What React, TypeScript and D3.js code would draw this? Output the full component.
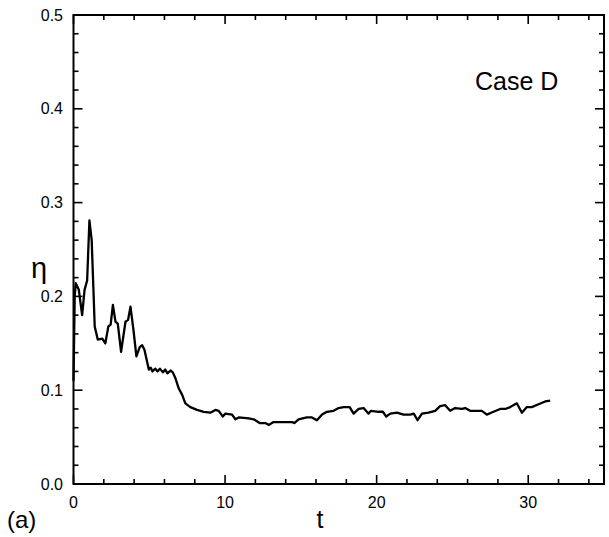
import React from "react";
import * as d3 from "d3";

const tValues = [
  0, 0.08, 0.15, 0.35, 0.57, 0.73, 0.9, 1.05, 1.2, 1.4,
  1.6, 1.9, 2.1, 2.3, 2.45, 2.6, 2.77, 2.92, 3.14, 3.43,
  3.6, 3.76, 3.95, 4.15, 4.37, 4.53, 4.68, 4.97, 5.1, 5.2,
  5.4, 5.55, 5.7, 5.9, 6.05, 6.2, 6.4, 6.55, 6.72, 6.94,
  7.17, 7.38, 7.71, 8.15, 8.59, 9.03, 9.36, 9.58, 9.85, 10.02,
  10.46, 10.68, 10.9, 11.56, 11.89, 12.28, 12.66, 12.88, 13.2, 13.86,
  14.42, 14.57, 14.85, 15.4, 15.73, 16.06, 16.4, 16.72, 17.16, 17.49,
  17.82, 18.22, 18.48, 18.81, 19.14, 19.47, 19.62, 20.13, 20.41, 20.63,
  20.9, 21.34, 21.77, 22.22, 22.45, 22.7, 22.99, 23.42, 23.86, 24.19,
  24.52, 24.85, 25.18, 25.62, 25.84, 26.17, 26.94, 27.27, 27.71, 28.15,
  28.48, 28.81, 29.25, 29.58, 29.91, 30.24, 30.68, 31.12, 31.45,
];

const etaValues = [
  0.11, 0.2, 0.214, 0.207, 0.18, 0.207, 0.217, 0.281, 0.26, 0.168,
  0.154, 0.155, 0.15, 0.168, 0.17, 0.191, 0.173, 0.171, 0.141, 0.173,
  0.175, 0.189, 0.165, 0.136, 0.146, 0.148, 0.143, 0.122, 0.124, 0.12,
  0.123, 0.12, 0.123, 0.119, 0.122, 0.118, 0.121, 0.119, 0.113, 0.102,
  0.095, 0.086, 0.082, 0.079, 0.077, 0.076, 0.079, 0.078, 0.072, 0.075,
  0.074, 0.069, 0.071, 0.07, 0.069, 0.065, 0.065, 0.063, 0.066, 0.066,
  0.066, 0.065, 0.069, 0.071, 0.071, 0.068, 0.074, 0.077, 0.078, 0.081,
  0.082, 0.082, 0.075, 0.08, 0.081, 0.075, 0.078, 0.077, 0.077, 0.072,
  0.075, 0.076, 0.074, 0.074, 0.075, 0.068, 0.075, 0.076, 0.078, 0.083,
  0.084, 0.078, 0.081, 0.08, 0.081, 0.078, 0.078, 0.074, 0.077, 0.08,
  0.08, 0.082, 0.086, 0.076, 0.082, 0.082, 0.085, 0.088, 0.089,
];

const xMajorTicks = [0, 10, 20, 30];
const xTickLabels = ["0", "10", "20", "30"];
const yMajorTicks = [0, 0.1, 0.2, 0.3, 0.4, 0.5];
const yTickLabels = ["0.0", "0.1", "0.2", "0.3", "0.4", "0.5"];
const caseLabel = "Case D";

const FONT = "'Liberation Sans', Arial, Helvetica, sans-serif";

export default function App() {
  const W = 609, H = 537;
  const left = 73.5, right = 604, top = 15, bottom = 484;
  const x = d3.scaleLinear().domain([0, 35]).range([left, right]);
  const y = d3.scaleLinear().domain([0, 0.5]).range([bottom, top]);

  const xMinor = d3.range(0, 35.01, 2).filter((v) => v > 0 && v < 35 && v % 10 !== 0);
  const yMinor = d3.range(0, 0.5001, 0.02).filter((v) => {
    const r = Math.round(v * 100);
    return r > 0 && r < 50 && r % 10 !== 0;
  });

  const data = tValues.map((t, i) => [t, etaValues[i]] as [number, number]);
  const line = d3.line<[number, number]>().x((d) => x(d[0])).y((d) => y(d[1]));

  const major = 9, minor = 5;

  return (
    <svg width={W} height={H} style={{ position: "absolute", left: 0, top: 0, background: "#fff" }}>
      <rect x={0} y={0} width={W} height={H} fill="#fff" />
      {/* ticks */}
      <g stroke="#000" strokeWidth={1.6}>
        {xMinor.map((v) => (
          <g key={"xm" + v}>
            <line x1={x(v)} x2={x(v)} y1={bottom} y2={bottom - minor} />
            <line x1={x(v)} x2={x(v)} y1={top} y2={top + minor} />
          </g>
        ))}
        {xMajorTicks.map((v) => (
          <g key={"xM" + v}>
            <line x1={x(v)} x2={x(v)} y1={bottom} y2={bottom - major} />
            <line x1={x(v)} x2={x(v)} y1={top} y2={top + major} />
          </g>
        ))}
        {yMinor.map((v) => (
          <g key={"ym" + v}>
            <line x1={left} x2={left + minor} y1={y(v)} y2={y(v)} />
            <line x1={right} x2={right - minor} y1={y(v)} y2={y(v)} />
          </g>
        ))}
        {yMajorTicks.map((v) => (
          <g key={"yM" + v}>
            <line x1={left} x2={left + major} y1={y(v)} y2={y(v)} />
            <line x1={right} x2={right - major} y1={y(v)} y2={y(v)} />
          </g>
        ))}
      </g>
      {/* frame */}
      <rect x={left} y={top} width={right - left} height={bottom - top} fill="none" stroke="#000" strokeWidth={2} />
      {/* curve */}
      <path d={line(data) || ""} fill="none" stroke="#000" strokeWidth={2.3} strokeLinejoin="round" />
      {/* tick labels */}
      <g fontFamily={FONT} fontSize={16} fill="#000">
        {xMajorTicks.map((v, i) => (
          <text key={"xl" + v} x={x(v)} y={508} textAnchor="middle">
            {xTickLabels[i]}
          </text>
        ))}
        {yMajorTicks.map((v, i) => (
          <text key={"yl" + v} x={63} y={y(v)} textAnchor="end" dominantBaseline="central">
            {yTickLabels[i]}
          </text>
        ))}
      </g>
      {/* axis labels */}
      <text x={320} y={528} fontFamily={FONT} fontSize={25} textAnchor="middle">t</text>
      <text x={39} y={278} fontFamily={FONT} fontSize={29} textAnchor="middle">η</text>
      <text x={7} y={528} fontFamily={FONT} fontSize={24}>(a)</text>
      <text x={475} y={90} fontFamily={FONT} fontSize={25}>{caseLabel}</text>
    </svg>
  );
}
